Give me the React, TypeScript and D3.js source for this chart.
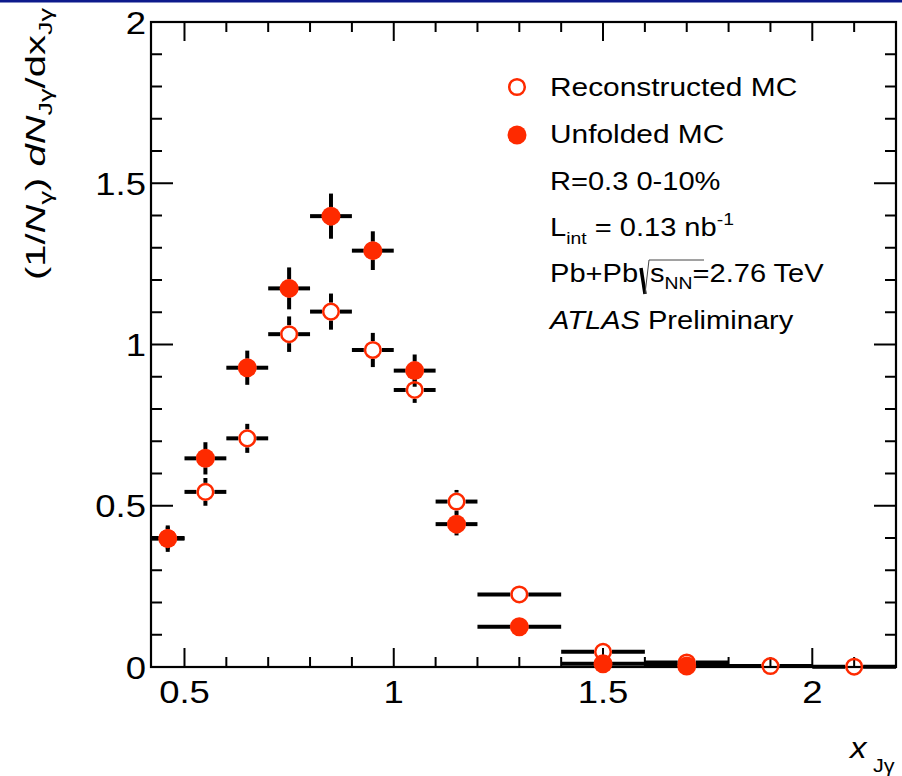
import React from 'react';
import * as d3 from 'd3';

// Bins of x_Jγ
const binLo = [0.42, 0.5, 0.6, 0.7, 0.8, 0.9, 1.0, 1.1, 1.2, 1.4, 1.6, 1.8, 2.0];
const binHi = [0.5, 0.6, 0.7, 0.8, 0.9, 1.0, 1.1, 1.2, 1.4, 1.6, 1.8, 2.0, 2.2];
const binCenter = [0.46, 0.55, 0.65, 0.75, 0.85, 0.95, 1.05, 1.15, 1.3, 1.5, 1.7, 1.9, 2.1];

// Reconstructed MC (open markers)
const recoValues = [0.40, 0.543, 0.709, 1.032, 1.102, 0.983, 0.859, 0.513, 0.225, 0.047, 0.014, 0.003, 0.001];
const recoErrors = [0.035, 0.043, 0.045, 0.055, 0.056, 0.053, 0.04, 0.036, 0.015, 0.008, 0.004, 0.002, 0.001];

// Unfolded MC (filled markers)
const unfoldValues: (number | null)[] = [0.398, 0.647, 0.928, 1.174, 1.398, 1.291, 0.919, 0.443, 0.125, 0.01, 0.003, null, null];
const unfoldErrors: (number | null)[] = [0.041, 0.05, 0.053, 0.065, 0.07, 0.06, 0.05, 0.035, 0.02, 0.01, 0.004, null, null];

const xMajorTicks = [0.5, 1, 1.5, 2];
const xTickLabels = ['0.5', '1', '1.5', '2'];
const yMajorTicks = [0, 0.5, 1, 1.5, 2];
const yTickLabels = ['0', '0.5', '1', '1.5', '2'];

const RED = '#fe2a00';
const FONT = '"Liberation Sans", Arial, Helvetica, sans-serif';
const SX = 1.14;

export default function App() {
  const W = 902;
  const H = 776;
  const x = d3.scaleLinear().domain([0.42, 2.2]).range([151, 896]);
  const y = d3.scaleLinear().domain([0, 2]).range([667, 22]);
  const [x0, x1] = x.range();
  const [yb, yt] = y.range();

  const xMinor = d3.range(5, 23).map((d) => d / 10).filter((d) => !xMajorTicks.some((m) => Math.abs(m - d) < 1e-6));
  const yMinor = d3.range(0, 21).map((d) => d / 10).filter((d) => !yMajorTicks.some((m) => Math.abs(m - d) < 1e-6));

  const rOpen = 7.8;
  const rFill = 9.5;
  const gap = 9;

  const errorBars = (vals: (number | null)[], errs: (number | null)[], key: string) =>
    vals.map((v, i) => {
      if (v === null) return null;
      const e = errs[i] ?? 0;
      const cx = x(binCenter[i]);
      const cy = y(v);
      const segs: JSX.Element[] = [];
      const xl = x(binLo[i]);
      const xr = x(binHi[i]);
      if (cx - gap > xl) segs.push(<line key="l" x1={xl} x2={cx - gap} y1={cy} y2={cy} />);
      if (xr > cx + gap) segs.push(<line key="r" x1={cx + gap} x2={xr} y1={cy} y2={cy} />);
      const yu = y(v + e);
      const yd = y(v - e);
      if (cy - yu > gap) segs.push(<line key="u" x1={cx} x2={cx} y1={cy - gap} y2={yu} />);
      if (yd - cy > gap) segs.push(<line key="d" x1={cx} x2={cx} y1={cy + gap} y2={Math.min(yd, yb)} />);
      return <g key={key + i}>{segs}</g>;
    });

  const txt = (
    xx: number,
    yy: number,
    size: number,
    anchor: string,
    children: React.ReactNode,
    key?: string,
    extra: any = {}
  ) => (
    <text
      key={key}
      transform={`translate(${xx},${yy}) scale(${SX},1)`}
      textAnchor={anchor}
      fontSize={size}
      fontFamily={FONT}
      fill="#000"
      {...extra}
    >
      {children}
    </text>
  );

  return (
    <svg
      width={W}
      height={H}
      viewBox={`0 0 ${W} ${H}`}
      style={{ position: 'absolute', left: 0, top: 0, background: '#fff' }}
    >
      <rect x={0} y={0} width={W} height={H} fill="#fff" />
      <rect x={0} y={0} width={W} height={2.5} fill="#0d1a8c" />

      {/* ticks */}
      <g stroke="#000" strokeWidth={2}>
        {xMajorTicks.map((t) => (
          <g key={'xM' + t}>
            <line x1={x(t)} x2={x(t)} y1={yb} y2={yb - 19} />
            <line x1={x(t)} x2={x(t)} y1={yt} y2={yt + 19} />
          </g>
        ))}
        {xMinor.map((t) => (
          <g key={'xm' + t}>
            <line x1={x(t)} x2={x(t)} y1={yb} y2={yb - 10} />
            <line x1={x(t)} x2={x(t)} y1={yt} y2={yt + 10} />
          </g>
        ))}
        {yMajorTicks.map((t) => (
          <g key={'yM' + t}>
            <line x1={x0} x2={x0 + 22} y1={y(t)} y2={y(t)} />
            <line x1={x1} x2={x1 - 22} y1={y(t)} y2={y(t)} />
          </g>
        ))}
        {yMinor.map((t) => (
          <g key={'ym' + t}>
            <line x1={x0} x2={x0 + 11} y1={y(t)} y2={y(t)} />
            <line x1={x1} x2={x1 - 11} y1={y(t)} y2={y(t)} />
          </g>
        ))}
      </g>

      {/* error bars */}
      <g stroke="#000" strokeWidth={4}>
        {errorBars(recoValues, recoErrors, 're')}
        {errorBars(unfoldValues, unfoldErrors, 'ue')}
      </g>

      {/* frame */}
      <rect x={x0} y={yt} width={x1 - x0} height={yb - yt} fill="none" stroke="#000" strokeWidth={2.2} />

      {/* markers */}
      {recoValues.map((v, i) => (
        <circle key={'ro' + i} cx={x(binCenter[i])} cy={y(v)} r={rOpen} fill="none" stroke={RED} strokeWidth={2.5} />
      ))}
      {unfoldValues.map((v, i) =>
        v === null ? null : <circle key={'uf' + i} cx={x(binCenter[i])} cy={y(v)} r={rFill} fill={RED} />
      )}

      {/* tick labels */}
      {xMajorTicks.map((t, i) => txt(x(t), 703, 32, 'middle', xTickLabels[i], 'xl' + i))}
      {yMajorTicks.map((t, i) => txt(146, y(t) + 11.5, 32, 'end', yTickLabels[i], 'yl' + i))}

      {/* axis titles */}
      <text
        transform={`translate(45,280) rotate(-90)`}
        fontSize={28}
        fontFamily={FONT}
        fill="#000"
        textLength={272}
        lengthAdjust="spacingAndGlyphs"
      >
        <tspan>(1/</tspan>
        <tspan fontStyle="italic">N</tspan>
        <tspan fontSize={19} dy={7}>γ</tspan>
        <tspan dy={-7}>) </tspan>
        <tspan fontStyle="italic">dN</tspan>
        <tspan fontSize={19} dy={7}>Jγ</tspan>
        <tspan dy={-7}>/dx</tspan>
        <tspan fontSize={19} dy={7}>Jγ</tspan>
      </text>
      <text transform={`translate(850,758) scale(${SX},1)`} fontSize={29} fontFamily={FONT} fill="#000">
        <tspan fontStyle="italic">x</tspan>
      </text>
      <text transform={`translate(873,772) scale(${SX},1)`} fontSize={19} fontFamily={FONT} fill="#000">
        Jγ
      </text>

      {/* legend */}
      <circle cx={517} cy={87} r={rOpen} fill="none" stroke={RED} strokeWidth={2.5} />
      <circle cx={517} cy={135} r={rFill} fill={RED} />
      {txt(550, 96, 26.2, 'start', 'Reconstructed MC', 'lg1')}
      {txt(550, 143, 26.2, 'start', 'Unfolded MC', 'lg2')}
      {txt(550, 190, 25.5, 'start', 'R=0.3 0-10%', 'i1')}
      {txt(
        550,
        236,
        25.5,
        'start',
        <>
          <tspan>L</tspan>
          <tspan fontSize={17} dy={8}>int</tspan>
          <tspan dy={-8}> = 0.13 nb</tspan>
          <tspan fontSize={17} dy={-11}>-1</tspan>
        </>,
        'i2'
      )}
      {txt(550, 282, 25.5, 'start', 'Pb+Pb', 'i3a')}
      <path d="M641,268 L645,294" stroke="#000" strokeWidth={3.5} fill="none" />
      <path d="M645,294 L649,260 L704,260" stroke="#444" strokeWidth={1} fill="none" />
      {txt(
        650,
        282,
        25.5,
        'start',
        <>
          <tspan>s</tspan>
          <tspan fontSize={17} dy={7}>NN</tspan>
          <tspan dy={-7}>=2.76 TeV</tspan>
        </>,
        'i3b'
      )}
      {txt(
        550,
        329,
        25.5,
        'start',
        <>
          <tspan fontStyle="italic">ATLAS</tspan>
          <tspan> Preliminary</tspan>
        </>,
        'i4'
      )}
    </svg>
  );
}
